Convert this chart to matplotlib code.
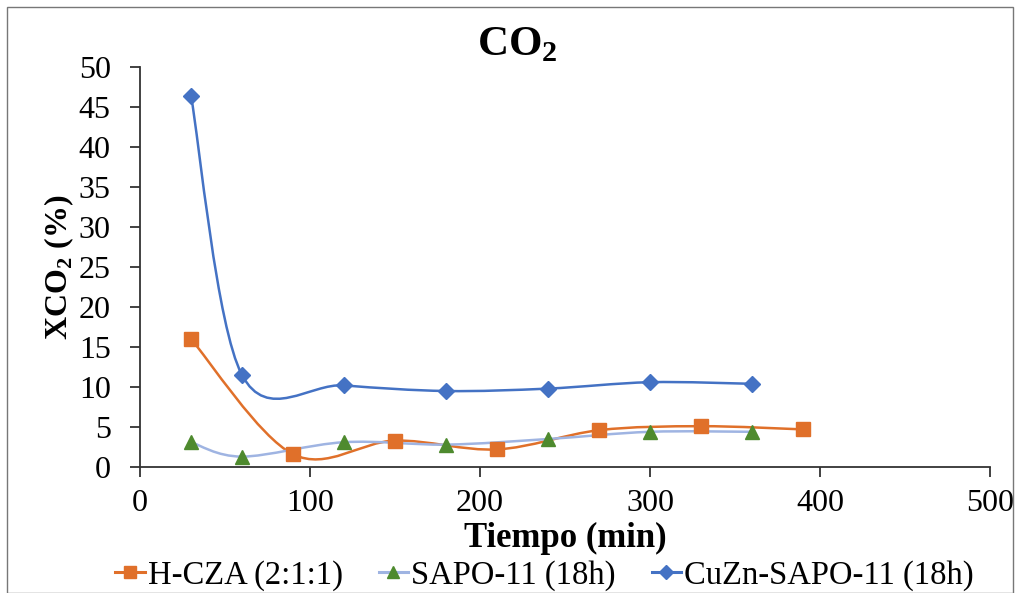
import numpy as np
import matplotlib
matplotlib.use("Agg")
import matplotlib.pyplot as plt
from matplotlib.path import Path
from matplotlib.patches import PathPatch, Rectangle
from matplotlib.lines import Line2D

plt.rcParams['font.family'] = ['Liberation Serif', 'DejaVu Serif']
plt.rcParams['mathtext.fontset'] = 'custom'
plt.rcParams['mathtext.rm'] = 'Liberation Serif'
plt.rcParams['mathtext.bf'] = 'Liberation Serif:bold'

# data
t_hcza = [30, 90, 150, 210, 270, 330, 390]
x_hcza = [16.0, 1.6, 3.3, 2.2, 4.6, 5.1, 4.7]

t_sapo = [30, 60, 120, 180, 240, 300, 360]
x_sapo = [3.1, 1.3, 3.1, 2.8, 3.5, 4.4, 4.4]

t_cuzn = [30, 60, 120, 180, 240, 300, 360]
x_cuzn = [46.4, 11.5, 10.2, 9.5, 9.8, 10.6, 10.4]

labels = ['H-CZA (2:1:1)', 'SAPO-11 (18h)', 'CuZn-SAPO-11 (18h)']


def smooth_path(xs, ys):
    # bezier through the points, like excel's smoothed line
    p = np.column_stack([xs, ys]).astype(float)
    n = len(p)
    verts = [p[0]]
    codes = [Path.MOVETO]
    for i in range(n - 1):
        p0 = p[i - 1] if i > 0 else p[i]
        p1 = p[i]
        p2 = p[i + 1]
        p3 = p[i + 2] if i + 2 < n else p[i + 1]
        c1 = p1 + (p2 - p0) / 6.0
        c2 = p2 - (p3 - p1) / 6.0
        verts += [c1, c2, p2]
        codes += [Path.CURVE4] * 3
    return Path(verts, codes)


fig = plt.figure(figsize=(10.18, 5.93), dpi=100)
ax = fig.add_axes([140/1018, 1 - 467/593, 850/1018, 400/593])

series = [
    (t_hcza, x_hcza, '#E0702A', '#E0702A', 's', 10.5),
    (t_sapo, x_sapo, '#9FB4E2', '#4E8A2E', '^', 10.5),
    (t_cuzn, x_cuzn, '#4472C4', '#4472C4', 'D', 8.5),
]
handles = []
for (tx, ty, lc, mc, mk, ms), lab in zip(series, labels):
    ax.add_patch(PathPatch(smooth_path(tx, ty), fill=False, edgecolor=lc, lw=1.8, zorder=2))
    ax.plot(tx, ty, ls='none', marker=mk, ms=ms, color=mc, zorder=3)
    handles.append(Line2D([], [], color=lc, lw=2.2, marker=mk, ms=ms * 0.8,
                          markerfacecolor=mc, markeredgecolor=mc, label=lab))

ax.set_xlim(0, 500)
ax.set_ylim(0, 50)
ax.set_xticks(np.arange(0, 501, 100))
ax.set_yticks(np.arange(0, 51, 5))
for s in ['top', 'right']:
    ax.spines[s].set_visible(False)
for s in ['left', 'bottom']:
    ax.spines[s].set_color('#333333')
    ax.spines[s].set_linewidth(1.3)
ax.tick_params(axis='both', labelsize=23, length=7, width=1.3, color='#333333')
ax.tick_params(axis='y', pad=14)
ax.tick_params(axis='x', pad=9)

ax.set_xlabel('Tiempo (min)', fontsize=25, fontweight='bold', labelpad=3)
ax.set_ylabel(r'XCO$_\mathbf{2}$ (%)', fontsize=23, fontweight='bold', labelpad=2)
fig.text(0.508, 0.925, r'CO$_\mathbf{2}$', fontsize=31, fontweight='bold', ha='center', va='center')

fig.legend(handles=handles, loc='center', bbox_to_anchor=(0.535, 0.03), ncol=3,
           frameon=False, fontsize=23.5, handlelength=0.9, handletextpad=0.1,
           columnspacing=1.1, borderaxespad=0)

fig.patches.append(Rectangle((0.007, 0.0), 0.988, 0.988, transform=fig.transFigure,
                             fill=False, edgecolor='#777777', lw=1.0))

fig.savefig('out.png', dpi=100)
